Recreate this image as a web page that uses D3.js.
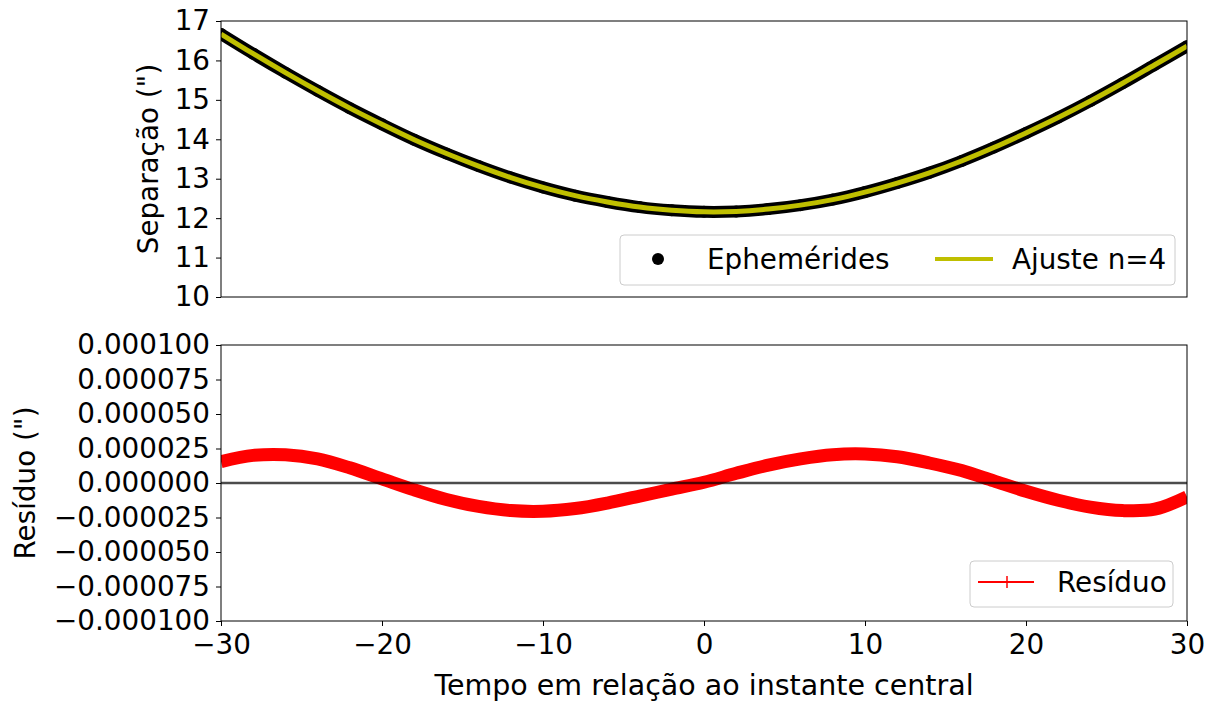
<!DOCTYPE html>
<html><head><meta charset="utf-8">
<script src="https://cdn.jsdelivr.net/npm/d3@7"></script>
<style>
body{margin:0;background:#fff;}
text{font-family:"DejaVu Sans",sans-serif;fill:#000;}
</style></head>
<body><svg id="c" width="1213" height="702"></svg>
<script>
const times = [-30,-28,-26,-24,-22,-20,-18,-16,-14,-12,-10,-8,-6,-4,-2,0,2,4,6,8,10,12,14,16,18,20,22,24,26,28,30];
const separation = [16.67,16.17,15.69,15.23,14.79,14.38,13.99,13.64,13.32,13.03,12.78,12.57,12.41,12.28,12.20,12.16,12.17,12.23,12.33,12.47,12.66,12.89,13.15,13.45,13.79,14.16,14.55,14.97,15.42,15.89,16.36];
const fitValues = separation;
const residualE5 = [1.55,2.0,2.05,1.75,1.1,0.3,-0.5,-1.2,-1.7,-2.0,-2.05,-1.85,-1.45,-0.95,-0.45,0.05,0.7,1.3,1.75,2.05,2.1,1.9,1.45,0.9,0.15,-0.6,-1.25,-1.75,-2.0,-1.9,-1.0];
const xTicks = [-30,-20,-10,0,10,20,30];
const sepTicks = [10,11,12,13,14,15,16,17];
const resTicks = [-0.0001,-0.000075,-0.00005,-0.000025,0,0.000025,0.00005,0.000075,0.0001];
const labels = {sep:'Separação (")', res:'Resíduo (")', x:'Tempo em relação ao instante central',
  eph:'Ephemérides', fit:'Ajuste n=4', resLeg:'Resíduo'};

const svg = d3.select("#c");
const L=221, R=1187, T1=21, B1=297, T2=345, B2=621;
const x = d3.scaleLinear().domain([-30,30]).range([L,R]);
const y1 = d3.scaleLinear().domain([10,17]).range([B1,T1]);
const y2 = d3.scaleLinear().domain([-0.0001,0.0001]).range([B2,T2]);
const fs = 27.8;
const minus = s => s.replace(/-/g,"\u2212");

const defs = svg.append("defs");
defs.append("clipPath").attr("id","c1").append("rect").attr("x",L).attr("y",T1).attr("width",R-L).attr("height",B1-T1);
defs.append("clipPath").attr("id","c2").append("rect").attr("x",L).attr("y",T2).attr("width",R-L).attr("height",B2-T2);

// top panel
const g1 = svg.append("g").attr("clip-path","url(#c1)");
const line1 = d3.line().x((d,i)=>x(times[i])).y(d=>y1(d)).curve(d3.curveCatmullRom);
g1.append("path").attr("d",line1(separation)).attr("fill","none").attr("stroke","#000").attr("stroke-width",12).attr("stroke-linecap","round");
g1.selectAll("circle.eph").data(separation).join("circle").attr("cx",(d,i)=>x(times[i])).attr("cy",d=>y1(d)).attr("r",6).attr("fill","#000");
g1.append("path").attr("d",line1(fitValues)).attr("fill","none").attr("stroke","#bfbf00").attr("stroke-width",5);

// bottom panel
const g2 = svg.append("g").attr("clip-path","url(#c2)");
const line2 = d3.line().x((d,i)=>x(times[i])).y(d=>y2(d*1e-5)).curve(d3.curveCatmullRom);
g2.append("path").attr("d",line2(residualE5)).attr("fill","none").attr("stroke","#ff0000").attr("stroke-width",13);
g2.append("line").attr("x1",L).attr("x2",R).attr("y1",y2(0)).attr("y2",y2(0)).attr("stroke","#000").attr("stroke-opacity",0.7).attr("stroke-width",2.5);

function styleAxis(g){
  g.select(".domain").remove();
  g.selectAll(".tick line").attr("stroke","#000").attr("stroke-width",1);
  g.selectAll(".tick text").attr("font-size",fs).attr("font-family","DejaVu Sans").attr("fill","#000");
}
const ay1 = svg.append("g").attr("transform",`translate(${L},0)`).call(d3.axisLeft(y1).tickValues(sepTicks).tickSize(5).tickPadding(6).tickFormat(d3.format("d")));
styleAxis(ay1);
const ay2 = svg.append("g").attr("transform",`translate(${L},0)`).call(d3.axisLeft(y2).tickValues(resTicks).tickSize(5).tickPadding(6).tickFormat(d=>minus(d.toFixed(6))));
styleAxis(ay2);
const ax2 = svg.append("g").attr("transform",`translate(0,${B2})`).call(d3.axisBottom(x).tickValues(xTicks).tickSize(5).tickPadding(8).tickFormat(d=>minus(String(d))));
styleAxis(ax2);

[[T1,B1],[T2,B2]].forEach(([t,b])=>{
  svg.append("rect").attr("x",L).attr("y",t).attr("width",R-L).attr("height",b-t).attr("fill","none").attr("stroke","#000").attr("stroke-width",1);
});

svg.append("text").attr("transform",`translate(158,${(T1+B1)/2}) rotate(-90)`).attr("text-anchor","middle").attr("font-size",fs).text(labels.sep);
svg.append("text").attr("transform",`translate(35,${(T2+B2)/2}) rotate(-90)`).attr("text-anchor","middle").attr("font-size",fs).text(labels.res);
svg.append("text").attr("x",(L+R)/2).attr("y",695).attr("text-anchor","middle").attr("font-size",28.5).text(labels.x);

// legend top
const lg1 = svg.append("g");
lg1.append("rect").attr("x",620).attr("y",235).attr("width",555).attr("height",50).attr("rx",4).attr("fill","#fff").attr("fill-opacity",0.8).attr("stroke","#ccc");
lg1.append("circle").attr("cx",658).attr("cy",259).attr("r",6).attr("fill","#000");
lg1.append("text").attr("x",707).attr("y",269).attr("font-size",fs).text(labels.eph);
lg1.append("line").attr("x1",935).attr("x2",993).attr("y1",259).attr("y2",259).attr("stroke","#bfbf00").attr("stroke-width",4);
lg1.append("text").attr("x",1012).attr("y",269).attr("font-size",fs).text(labels.fit);

// legend bottom
const lg2 = svg.append("g");
lg2.append("rect").attr("x",970).attr("y",561).attr("width",203).attr("height",46).attr("rx",4).attr("fill","#fff").attr("fill-opacity",0.8).attr("stroke","#ccc");
lg2.append("line").attr("x1",978).attr("x2",1034).attr("y1",582).attr("y2",582).attr("stroke","#ff0000").attr("stroke-width",2);
lg2.append("line").attr("x1",1007).attr("x2",1007).attr("y1",576).attr("y2",588).attr("stroke","#ff0000").attr("stroke-width",1.5);
lg2.append("text").attr("x",1057).attr("y",592).attr("font-size",fs).text(labels.resLeg);
</script></body></html>
